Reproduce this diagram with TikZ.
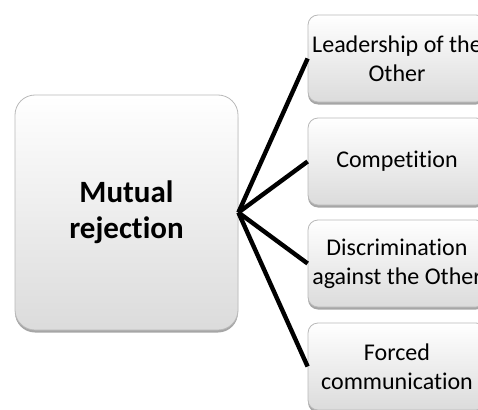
\documentclass[tikz,border=0pt]{standalone}
\usepackage{fontspec}
\setmainfont{Carlito}[Ligatures=NoCommon]
\usepackage{tikz}
\usetikzlibrary{positioning, shadows}

\begin{document}
\begin{tikzpicture}[x=1pt, y=-1pt,
    bevel/.style={rectangle, rounded corners=#1, draw=gray!55, line width=0.8pt,
                  top color=white, bottom color=gray!28, text=black, align=center,
                  drop shadow={shadow xshift=0pt, shadow yshift=-2.5pt, opacity=0.35, fill=black}},
    core/.style={bevel=20pt, minimum width=223pt, minimum height=235pt,
                 font=\fontsize{31}{36}\selectfont\bfseries},
    aspect/.style={bevel=10pt, minimum width=178pt, minimum height=87pt,
                   font=\fontsize{24}{29}\selectfont},
    spoke/.style={line width=4.4pt, black}
]
    \useasboundingbox (0,0) rectangle (478,409);
    \clip (0,0) rectangle (478,409);

    % Central box
    \node[core] (rej) at (126.5, 212.5) {Mutual\\rejection};

    % Forms of rejection
    \node[aspect] (lead) at (397, 58.5)  {Leadership of the\\Other};
    \node[aspect] (comp) at (397, 161.5) {Competition};
    \node[aspect] (disc) at (397, 263.5) {Discrimination\\against the Other};
    \node[aspect] (forc) at (397, 366.5) {Forced\\communication};

    % Spokes
    \draw[spoke] (rej.east) -- (lead.west);
    \draw[spoke] (rej.east) -- (comp.west);
    \draw[spoke] (rej.east) -- (disc.west);
    \draw[spoke] (rej.east) -- (forc.west);
\end{tikzpicture}
\end{document}
